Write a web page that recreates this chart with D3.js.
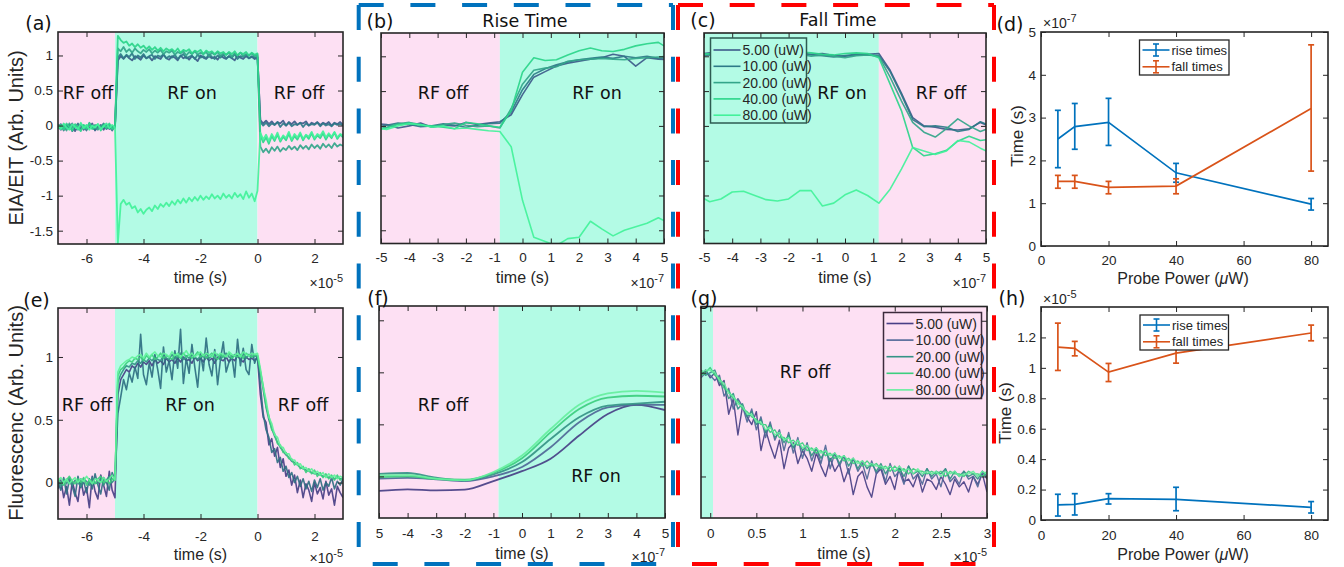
<!DOCTYPE html>
<html>
<head>
<meta charset="utf-8">
<script src="https://cdn.jsdelivr.net/npm/d3@7"></script>
<style>
  body { margin: 0; background: #ffffff; }
  svg { display: block; }
</style>
</head>
<body>
<svg id="fig" width="1344" height="567"></svg>
<script>
// ---------------- data ----------------
const powerLevels = [5, 10, 20, 40, 80];
const powerLabels = ["5.00 (uW)", "10.00 (uW)", "20.00 (uW)", "40.00 (uW)", "80.00 (uW)"];

// sample times (×1e-5 s) for the full EIA/EIT and fluorescence traces
const tFull = d3.range(101).map(i => +(-7 + i * 0.1).toFixed(2));
// sample times (×1e-7 s) for the rise / fall close-ups of the EIA/EIT signal
const tZoom = d3.range(27).map(k => +((k - 13) * 0.4).toFixed(2));
// sample times (×1e-7 s) for the fluorescence rise close-up
const tFluRise = [-5, -4, -3, -2, -1, 0, 1, 2, 3, 4, 5];
// sample times (×1e-5 s) for the fluorescence decay close-up
const tFluFall = d3.range(63).map(i => +(-0.1 + i * 0.05).toFixed(2));

// (a) EIA/EIT signal, RF switched on at -5e-5 s and off at 0
const eiaFull_5 = [
  -0.03,0.02,-0.07,0.01,-0.05,0.03,-0.08,-0.01,0.02,-0.06,0.00,-0.04,0.03,-0.07,-0.02,0.01,-0.06,0.02,-0.05,-0.01,-0.03,
  0.93,0.99,0.95,1.00,0.96,0.93,0.99,0.97,0.94,1.00, 0.96,0.98,0.93,0.99,0.97,0.95,1.01,0.96,0.94,0.99,
  0.97,0.93,1.00,0.96,0.98,0.94,0.99,0.96,0.92,1.00, 0.97,0.95,0.99,0.96,0.98,0.94,1.00,0.97,0.95,0.99,
  0.96,0.93,1.00,0.97,0.95,0.99,0.96,0.98,0.95,0.97,
  0.08,0.03,0.07,0.02,0.06,0.01,0.05,0.03,0.07,0.00, 0.05,0.02,0.06,0.01,0.04,0.03,0.06,0.00,0.04,0.02,
  0.05,0.01,0.04,0.02,0.05,0.00,0.04,0.02,0.05,0.01];
const eiaFull_10 = [
  -0.01,-0.06,0.02,-0.04,0.01,-0.08,-0.02,0.03,-0.05,0.00,-0.07,0.02,-0.03,-0.06,0.01,-0.04,0.03,-0.05,-0.01,-0.07,0.00,
  0.97,1.02,0.96,1.01,0.98,1.03,0.95,1.00,0.97,1.02, 0.96,0.99,1.01,0.95,1.00,0.98,1.02,0.96,0.99,0.97,
  1.01,0.95,0.99,1.02,0.96,0.98,1.00,0.95,1.01,0.97, 0.99,0.96,1.02,0.98,0.95,1.00,0.97,1.01,0.96,0.99,
  0.97,1.02,0.95,0.99,0.98,1.01,0.96,0.99,0.97,0.98,
  0.05,0.00,0.04,-0.01,0.03,0.01,0.05,-0.02,0.03,0.00, 0.04,-0.01,0.02,0.01,0.04,-0.02,0.03,0.00,0.02,0.01,
  0.04,-0.01,0.03,0.00,0.02,-0.01,0.03,0.01,0.02,0.00];
const eiaFull_20 = [
  0.02,-0.04,-0.01,-0.07,0.03,-0.03,0.00,-0.06,0.02,-0.02,-0.05,0.04,-0.03,0.01,-0.06,-0.01,0.02,-0.04,0.01,-0.03,-0.02,
  1.10,1.06,1.12,1.05,1.09,1.04,1.10,1.06,1.03,1.08, 1.05,1.09,1.03,1.07,1.04,1.08,1.02,1.06,1.04,1.07,
  1.01,1.05,1.03,1.06,1.00,1.05,1.02,1.06,1.01,1.04, 1.02,1.05,0.99,1.04,1.01,1.05,0.99,1.03,1.01,1.04,
  0.98,1.03,1.00,1.04,0.99,1.02,1.00,1.03,0.99,1.01,
  -0.30,-0.38,-0.33,-0.39,-0.31,-0.36,-0.30,-0.37,-0.32,-0.35, -0.29,-0.34,-0.30,-0.35,-0.28,-0.33,-0.29,-0.34,-0.27,-0.32,
  -0.28,-0.33,-0.26,-0.31,-0.27,-0.32,-0.25,-0.30,-0.27,-0.29];
const eiaFull_40 = [
  -0.04,0.01,-0.06,0.03,-0.02,-0.07,0.02,-0.03,-0.08,0.01,-0.04,0.03,-0.05,-0.01,0.02,-0.07,0.00,-0.03,0.03,-0.05,-0.02,
  1.28,1.22,1.18,1.20,1.14,1.17,1.12,1.16,1.11,1.14, 1.09,1.13,1.08,1.12,1.07,1.11,1.06,1.10,1.07,1.09,
  1.05,1.10,1.04,1.08,1.06,1.09,1.03,1.07,1.05,1.08, 1.02,1.07,1.04,1.06,1.02,1.06,1.03,1.05,1.01,1.05,
  1.02,1.06,1.00,1.04,1.02,1.05,1.00,1.04,1.01,1.03,
  -0.14,-0.24,-0.17,-0.26,-0.15,-0.22,-0.13,-0.23,-0.16,-0.21, -0.12,-0.22,-0.15,-0.20,-0.12,-0.21,-0.14,-0.19,-0.11,-0.20,
  -0.14,-0.18,-0.11,-0.20,-0.13,-0.18,-0.10,-0.19,-0.13,-0.17];
const eiaFull_80 = [
  0.00,-0.05,0.03,-0.03,-0.06,0.02,-0.02,-0.05,0.04,-0.04,0.01,-0.06,0.00,-0.03,0.02,-0.05,-0.01,0.03,-0.04,0.01,-0.03,
  -1.68,-1.12,-1.06,-1.13,-1.10,-1.18,-1.15,-1.24,-1.19,-1.26, -1.20,-1.17,-1.22,-1.14,-1.19,-1.12,-1.16,-1.10,-1.15,-1.08,
  -1.13,-1.06,-1.11,-1.04,-1.10,-1.03,-1.08,-1.02,-1.07,-1.00, -1.06,-1.01,-1.05,-0.98,-1.04,-1.00,-1.05,-0.97,-1.03,-0.99,
  -1.04,-0.96,-1.02,-0.98,-1.05,-0.94,-1.03,-0.97,-1.08,-0.93,
  -0.10,-0.20,-0.13,-0.22,-0.12,-0.19,-0.10,-0.21,-0.14,-0.18, -0.09,-0.20,-0.12,-0.17,-0.10,-0.19,-0.13,-0.16,-0.09,-0.18,
  -0.12,-0.15,-0.08,-0.17,-0.11,-0.16,-0.09,-0.17,-0.12,-0.14];

// (b) EIA/EIT rise close-up
const eiaRise_5  = [0.03,0.02,-0.03,0.00,0.04,-0.02,0.01,0.00,0.05,0.02,0.04, 0.06,0.16,0.45,0.70,0.78,0.86,0.90,0.93,0.96,0.98,1.03,1.00,0.86,0.98,0.96,0.95];
const eiaRise_10 = [-0.02,0.01,0.04,0.02,-0.01,0.00,0.03,0.01,-0.02,0.01,0.03, 0.04,0.20,0.52,0.74,0.82,0.88,0.92,0.95,0.97,0.99,0.97,1.00,0.98,1.00,0.97,0.98];
const eiaRise_20 = [-0.05,-0.02,0.03,0.05,0.02,-0.01,0.02,0.04,0.01,-0.01,0.00, -0.03,0.25,0.60,0.80,0.83,0.85,0.93,0.95,0.96,0.97,0.96,0.95,0.97,0.98,0.99,1.00];
const eiaRise_40 = [-0.06,-0.03,0.02,0.04,0.01,0.00,-0.02,-0.04,0.05,0.03,0.00, -0.02,0.22,0.77,0.98,0.94,0.95,1.02,1.08,1.12,1.08,1.07,1.10,1.15,1.18,1.20,1.10];
const eiaRise_80 = [-0.03,-0.05,0.00,0.03,0.02,-0.02,0.00,-0.04,-0.03,-0.05,-0.07, -0.08,-0.30,-1.07,-1.60,-1.66,-1.72,-1.62,-1.60,-1.37,-1.48,-1.58,-1.50,-1.45,-1.40,-1.32,-1.40];

// (c) EIA/EIT fall close-up
const eiaFall_5  = [1.03,1.05,1.04,1.06,1.04,1.05,1.03,1.04,1.06,1.05,1.03,1.04,1.01,1.00,1.02,1.03,1.04, 0.80,0.47,0.12,0.00,-0.02,-0.05,-0.06,-0.04,0.05,-0.02];
const eiaFall_10 = [1.00,1.02,1.05,1.03,1.02,1.04,1.06,1.05,1.03,1.04,1.02,1.01,0.99,1.01,1.03,1.02,1.01, 0.78,0.45,0.09,-0.01,0.00,-0.02,-0.08,-0.05,0.06,-0.01];
const eiaFall_20 = [1.05,1.03,1.02,1.04,1.05,1.03,1.02,1.04,1.05,1.03,1.00,1.02,1.00,0.98,1.01,1.02,1.00, 0.70,0.36,0.05,-0.09,-0.16,-0.04,0.10,0.00,-0.08,-0.02];
const eiaFall_40 = [1.02,1.04,1.03,1.01,1.04,1.06,1.04,1.02,1.03,1.06,1.05,1.03,1.02,1.04,1.05,1.04,0.98, 0.60,0.22,-0.31,-0.43,-0.40,-0.35,-0.22,-0.15,-0.21,-0.19];
const eiaFall_80 = [-1.00,-1.09,-1.05,-0.95,-0.94,-1.00,-1.06,-1.08,-1.05,-0.93,-0.93,-1.15,-1.11,-0.99,-0.92,-1.00,-1.11, -0.91,-0.62,-0.31,-0.36,-0.41,-0.36,-0.21,-0.23,-0.32,-0.40];

// (d) EIA/EIT response times (×1e-7 s)
const eiaRiseTime = [2.50, 2.79, 2.89, 1.71, 0.98];
const eiaRiseLow  = [1.83, 2.26, 2.35, 1.49, 0.84];
const eiaRiseHigh = [3.17, 3.33, 3.45, 1.93, 1.11];
const eiaFallTime = [1.51, 1.51, 1.37, 1.40, 3.21];
const eiaFallLow  = [1.35, 1.35, 1.22, 1.22, 1.75];
const eiaFallHigh = [1.65, 1.65, 1.51, 1.57, 4.70];

// (e) fluorescence signal
const fluFull_5 = [
  -0.05,0.02,-0.12,-0.03,-0.18,0.01,-0.08,-0.15,0.03,-0.10,-0.04,-0.20,0.05,-0.07,-0.13,0.06,-0.02,-0.11,0.09,-0.06,-0.12,
  0.70,0.82,0.86,0.90,0.88,0.93,0.91,0.95,0.92,0.96, 0.94,0.97,0.93,0.98,0.95,0.97,0.94,0.99,0.96,0.98,
  0.95,0.99,0.96,1.00,0.97,0.98,0.95,1.00,0.97,0.99, 0.96,1.00,0.97,0.99,0.95,1.00,0.98,0.97,1.00,0.96,
  0.99,0.97,1.01,0.98,0.96,1.00,0.98,0.99,0.97,1.00,
  0.70,0.52,0.48,0.30,0.35,0.21,0.28,0.12,0.19,0.05, 0.10,-0.02,0.06,-0.08,0.02,-0.12,-0.01,-0.06,-0.15,0.00,
  -0.09,-0.04,-0.13,0.01,-0.10,-0.05,-0.18,-0.03,-0.08,-0.12];
const fluFull_10 = [
  0.00,-0.06,0.04,-0.09,0.02,-0.03,-0.11,0.05,-0.04,0.01,-0.08,0.03,-0.05,0.07,-0.02,-0.09,0.04,0.00,-0.06,0.08,0.02,
  0.55,0.68,0.82,0.74,0.87,0.80,0.92,0.83,1.18,0.86, 0.78,0.95,0.84,1.02,0.90,0.75,1.08,0.88,0.97,0.82,
  1.05,0.91,1.22,0.79,0.99,0.87,1.10,0.92,0.76,1.03, 0.89,1.15,0.94,0.85,1.06,0.78,0.98,1.12,0.88,0.96,
  1.01,0.84,1.14,0.93,1.07,0.90,0.86,1.10,0.95,1.01,
  0.78,0.55,0.42,0.36,0.24,0.27,0.16,0.20,0.09,0.13, 0.04,0.08,0.00,0.05,-0.03,0.03,-0.05,0.01,-0.07,0.02,
  -0.04,0.03,-0.06,0.00,-0.03,0.04,-0.05,0.01,-0.02,0.03];
const fluFull_20 = [
  0.01,-0.03,0.03,-0.01,0.04,-0.02,0.02,0.00,-0.03,0.03,0.01,-0.02,0.04,0.00,-0.01,0.03,-0.02,0.02,0.05,0.00,0.03,
  0.80,0.86,0.90,0.93,0.92,0.95,0.94,0.97,0.95,0.98, 0.96,0.99,0.97,1.00,0.98,0.97,1.01,0.99,0.98,1.02,
  0.99,1.00,1.03,0.98,1.01,0.99,1.02,1.00,0.98,1.01, 1.00,1.03,0.99,1.01,1.00,1.02,0.98,1.01,1.03,1.00,
  0.99,1.02,1.01,1.00,1.03,0.99,1.02,1.00,1.01,1.00,
  0.88,0.74,0.60,0.50,0.43,0.37,0.32,0.28,0.25,0.22, 0.20,0.17,0.16,0.14,0.12,0.11,0.10,0.09,0.08,0.07,
  0.07,0.06,0.05,0.05,0.04,0.05,0.03,0.04,0.03,0.03];
const fluFull_40 = [
  0.03,0.00,-0.02,0.02,0.05,0.01,-0.01,0.03,0.00,0.04,-0.02,0.02,0.01,-0.01,0.03,0.05,0.00,0.02,-0.01,0.03,0.02,
  0.85,0.90,0.92,0.95,0.97,0.96,0.99,0.98,1.00,0.97, 1.01,0.99,1.02,0.98,1.00,1.03,0.99,1.01,1.00,0.98,
  1.02,1.01,0.99,1.03,1.00,1.02,0.99,1.01,1.04,1.00, 1.02,0.99,1.01,1.03,1.00,0.98,1.02,1.00,1.01,1.03,
  0.99,1.01,1.00,1.02,0.99,1.03,1.01,1.00,1.02,1.01,
  0.89,0.77,0.61,0.53,0.42,0.39,0.31,0.30,0.24,0.24, 0.19,0.19,0.14,0.16,0.11,0.13,0.08,0.11,0.07,0.10,
  0.05,0.08,0.04,0.07,0.03,0.06,0.02,0.06,0.02,0.04];
const fluFull_80 = [
  0.02,0.04,0.00,0.03,-0.01,0.02,0.04,0.00,0.03,0.01,0.05,0.02,-0.01,0.03,0.02,0.00,0.04,0.01,0.03,0.06,0.02,
  0.88,0.93,0.95,0.97,0.98,1.00,0.99,1.01,1.02,0.99, 1.03,1.00,1.02,1.04,1.01,1.00,1.03,1.02,1.00,1.04,
  1.01,1.03,1.00,1.02,1.05,1.01,1.03,1.00,1.02,1.04, 1.01,1.03,1.02,1.00,1.04,1.01,1.03,1.02,1.00,1.04,
  1.02,1.01,1.03,1.00,1.04,1.02,1.01,1.03,1.02,1.03,
  0.91,0.76,0.66,0.52,0.47,0.38,0.36,0.29,0.28,0.23, 0.23,0.18,0.18,0.14,0.15,0.11,0.12,0.09,0.11,0.07,
  0.09,0.06,0.08,0.04,0.07,0.04,0.06,0.03,0.05,0.04];

// (f) fluorescence rise close-up
const fluRise_5  = [0.144,0.150,0.146,0.149,0.182,0.220,0.268,0.357,0.440,0.475,0.455];
const fluRise_10 = [0.191,0.194,0.189,0.182,0.200,0.236,0.312,0.408,0.465,0.475,0.475];
const fluRise_20 = [0.210,0.213,0.195,0.185,0.208,0.255,0.344,0.427,0.472,0.480,0.487];
const fluRise_40 = [0.197,0.200,0.190,0.187,0.213,0.270,0.369,0.459,0.503,0.510,0.507];
const fluRise_80 = [0.204,0.206,0.191,0.185,0.217,0.280,0.382,0.475,0.519,0.529,0.522];

// (g) fluorescence decay close-up
const fluFall_5 = [0.59,0.61,0.58,0.60,0.55,0.57,0.44,0.50,0.36,0.47, 0.43,0.40,0.45,0.30,0.38,0.32,0.27,0.34,0.23,0.31,
  0.33,0.25,0.30,0.27,0.22,0.29,0.24,0.20,0.27,0.22, 0.25,0.18,0.23,0.13,0.20,0.22,0.16,0.12,0.21,0.23,
  0.17,0.20,0.15,0.24,0.18,0.19,0.16,0.21,0.14,0.19, 0.18,0.15,0.20,0.17,0.13,0.19,0.16,0.18,0.14,0.20, 0.17,0.21,0.14];
const fluFall_10 = [0.58,0.60,0.59,0.57,0.59,0.51,0.54,0.46,0.50,0.47, 0.41,0.46,0.38,0.43,0.35,0.41,0.34,0.38,0.30,0.37,
  0.29,0.35,0.27,0.33,0.26,0.31,0.25,0.32,0.23,0.29, 0.24,0.28,0.21,0.27,0.22,0.25,0.19,0.26,0.21,0.24,
  0.18,0.25,0.20,0.22,0.17,0.24,0.19,0.21,0.17,0.23, 0.19,0.21,0.16,0.23,0.18,0.20,0.17,0.22,0.19,0.20, 0.16,0.22,0.19];
const fluFall_20 = [0.61,0.59,0.60,0.61,0.56,0.55,0.50,0.52,0.46,0.48, 0.43,0.45,0.40,0.42,0.37,0.40,0.35,0.37,0.33,0.36,
  0.31,0.34,0.30,0.32,0.28,0.31,0.27,0.30,0.26,0.29, 0.25,0.28,0.24,0.27,0.23,0.26,0.23,0.25,0.22,0.25,
  0.21,0.24,0.22,0.23,0.20,0.24,0.21,0.22,0.20,0.23, 0.20,0.22,0.21,0.23,0.19,0.22,0.20,0.22,0.20,0.21, 0.19,0.22,0.20];
const fluFall_40 = [0.59,0.60,0.62,0.59,0.58,0.54,0.53,0.50,0.49,0.46, 0.45,0.43,0.42,0.40,0.40,0.37,0.38,0.35,0.35,0.33,
  0.34,0.32,0.33,0.30,0.31,0.29,0.30,0.28,0.29,0.27, 0.28,0.26,0.27,0.25,0.26,0.24,0.26,0.24,0.25,0.23,
  0.24,0.22,0.24,0.22,0.23,0.21,0.23,0.22,0.22,0.21, 0.22,0.21,0.22,0.20,0.22,0.21,0.21,0.20,0.22,0.21, 0.21,0.20,0.22];
const fluFall_80 = [0.60,0.61,0.61,0.60,0.57,0.56,0.52,0.51,0.48,0.47, 0.44,0.44,0.41,0.41,0.38,0.39,0.36,0.37,0.34,0.35,
  0.32,0.34,0.31,0.32,0.30,0.31,0.29,0.30,0.28,0.29, 0.27,0.28,0.26,0.27,0.25,0.26,0.24,0.25,0.24,0.24,
  0.23,0.24,0.22,0.24,0.22,0.23,0.21,0.23,0.21,0.22, 0.21,0.22,0.20,0.22,0.21,0.22,0.20,0.21,0.21,0.22, 0.20,0.22,0.21];

// (h) fluorescence response times (×1e-5 s)
const fluRiseTime = [0.099, 0.103, 0.140, 0.136, 0.083];
const fluRiseLow  = [0.026, 0.033, 0.105, 0.061, 0.046];
const fluRiseHigh = [0.169, 0.173, 0.173, 0.215, 0.121];
const fluFallTime = [1.136, 1.128, 0.972, 1.097, 1.229];
const fluFallLow  = [0.983, 1.079, 0.910, 1.031, 1.178];
const fluFallHigh = [1.294, 1.174, 1.029, 1.156, 1.281];

// tick labels
const fullTimeTicks = [-6, -4, -2, 0, 2];
const fullTimeLabels = ["-6", "-4", "-2", "0", "2"];
const zoomTicks = [-5, -4, -3, -2, -1, 0, 1, 2, 3, 4, 5];
const zoomLabels = ["-5", "-4", "-3", "-2", "-1", "0", "1", "2", "3", "4", "5"];
const fluZoomLabels = ["5", "-4", "-3", "-2", "-1", "0", "1", "2", "3", "4", "5"];
const decayTicks = [0, 0.5, 1, 1.5, 2, 2.5, 3];
const decayLabels = ["0", "0.5", "1", "1.5", "2", "2.5", "3"];
const eiaTicks = [-1.5, -1, -0.5, 0, 0.5, 1];
const eiaLabels = ["-1.5", "-1", "-0.5", "0", "0.5", "1"];
const fluTicks = [0, 0.5, 1];
const fluLabels = ["0", "0.5", "1"];
const closeTicks = [0.2, 0.4, 0.6, 0.8];
const powerTicks = [0, 20, 40, 60, 80];
const powerTickLabels = ["0", "20", "40", "60", "80"];
const eiaTimeTicks = [0, 1, 2, 3, 4, 5];
const eiaTimeLabels = ["0", "1", "2", "3", "4", "5"];
const fluTimeTicks = [0, 0.2, 0.4, 0.6, 0.8, 1, 1.2];
const fluTimeLabels = ["0", "0.2", "0.4", "0.6", "0.8", "1", "1.2"];

// ---------------- styling ----------------
const PINK = "#fde0f3", CYAN = "#b3fbe5";
const topColors = ["#3d5a8a", "#2e7a88", "#33a58a", "#2bd58a", "#42f29a"];
const fluColors = ["#483f86", "#2f6f82", "#349386", "#3cce7e", "#5ff29a"];
const bottomColors = ["#483f86", "#4f6797", "#349386", "#3cce7e", "#66ef9e"];
const BLUE = "#0072bd", ORANGE = "#d95319";
const INK = "#262626";
const tickFont = "Liberation Sans, Arial, Helvetica, sans-serif";
const noteFont = "DejaVu Sans, Verdana, sans-serif";
const TICK = 5;

const svg = d3.select("#fig");
const defs = svg.append("defs");
let clipCount = 0;

function frame(p) {
  const x = d3.scaleLinear().domain(p.xDomain).range([p.left, p.right]);
  const y = d3.scaleLinear().domain(p.yDomain).range([p.bottom, p.top]);
  const id = "plotclip" + (clipCount++);
  defs.append("clipPath").attr("id", id).append("rect")
    .attr("x", p.left).attr("y", p.top)
    .attr("width", p.right - p.left).attr("height", p.bottom - p.top);
  const g = svg.append("g");
  const body = g.append("g").attr("clip-path", `url(#${id})`);
  body.append("rect").attr("x", p.left).attr("y", p.top)
    .attr("width", p.right - p.left).attr("height", p.bottom - p.top).attr("fill", "#fff");
  (p.bands || []).forEach(b => {
    body.append("rect")
      .attr("x", x(b[0])).attr("y", p.top)
      .attr("width", x(b[1]) - x(b[0])).attr("height", p.bottom - p.top)
      .attr("fill", b[2]);
  });
  return { p, x, y, g, body };
}

function styleAxis(sel) {
  sel.select(".domain").remove();
  sel.attr("font-family", tickFont).attr("font-size", 13.5);
  sel.selectAll("line").attr("stroke", INK);
  sel.selectAll("text").attr("fill", INK);
}

function axes(F) {
  const { p, x, y, g } = F;
  g.append("g").attr("transform", `translate(0,${p.bottom})`)
    .call(d3.axisBottom(x).tickValues(p.xTicks).tickSize(-TICK).tickPadding(p.xPad)
      .tickFormat((d, i) => p.xLabels[i]))
    .call(styleAxis);
  g.append("g").attr("transform", `translate(0,${p.top})`)
    .call(d3.axisTop(x).tickValues(p.xTicks).tickSize(-TICK).tickFormat(""))
    .call(styleAxis);
  g.append("g").attr("transform", `translate(${p.left},0)`)
    .call(d3.axisLeft(y).tickValues(p.yTicks).tickSize(-TICK).tickPadding(5)
      .tickFormat((d, i) => (p.yLabels ? p.yLabels[i] : "")))
    .call(styleAxis);
  g.append("g").attr("transform", `translate(${p.right},0)`)
    .call(d3.axisRight(y).tickValues(p.yTicks).tickSize(-TICK).tickFormat(""))
    .call(styleAxis);
  g.append("rect").attr("x", p.left).attr("y", p.top)
    .attr("width", p.right - p.left).attr("height", p.bottom - p.top)
    .attr("fill", "none").attr("stroke", INK).attr("stroke-width", 1.6);
}

function traces(F, t, list, colors, width, curve) {
  const line = d3.line().x(d => F.x(d[0])).y(d => F.y(d[1])).curve(curve || d3.curveLinear);
  list.forEach((vals, i) => {
    F.body.append("path").datum(d3.zip(t, vals)).attr("d", line)
      .attr("fill", "none").attr("stroke", colors[i]).attr("stroke-width", width)
      .attr("stroke-linejoin", "round").attr("stroke-opacity", 0.92);
  });
}

function errorSeries(F, xs, mid, lo, hi, color) {
  const line = d3.line().x((d, i) => F.x(xs[i])).y(d => F.y(d));
  F.g.append("path").datum(mid).attr("d", line)
    .attr("fill", "none").attr("stroke", color).attr("stroke-width", 1.7);
  const bars = F.g.append("g").attr("stroke", color).attr("stroke-width", 1.7);
  xs.forEach((xv, i) => {
    const X = F.x(xv), Y0 = F.y(lo[i]), Y1 = F.y(hi[i]);
    bars.append("line").attr("x1", X).attr("x2", X).attr("y1", Y0).attr("y2", Y1);
    bars.append("line").attr("x1", X - 3).attr("x2", X + 3).attr("y1", Y0).attr("y2", Y0);
    bars.append("line").attr("x1", X - 3).attr("x2", X + 3).attr("y1", Y1).attr("y2", Y1);
  });
}

function note(x, y, text, size, family) {
  return svg.append("text").attr("x", x).attr("y", y)
    .attr("text-anchor", "middle").attr("dominant-baseline", "central")
    .attr("font-family", family || noteFont).attr("font-size", size)
    .attr("fill", "#111").text(text);
}

function xLabel(F, y, text) {
  return svg.append("text").attr("x", (F.p.left + F.p.right) / 2).attr("y", y)
    .attr("text-anchor", "middle").attr("font-family", tickFont).attr("font-size", 16)
    .attr("fill", INK).text(text);
}

function yLabel(x, y, text, size) {
  svg.append("text").attr("transform", `translate(${x},${y}) rotate(-90)`)
    .attr("text-anchor", "middle").attr("dominant-baseline", "central")
    .attr("font-family", tickFont).attr("font-size", size).attr("fill", INK).text(text);
}

function exponent(x, y, exp, anchor) {
  const t = svg.append("text").attr("x", x).attr("y", y).attr("text-anchor", anchor)
    .attr("font-family", tickFont).attr("font-size", 14).attr("fill", INK);
  t.append("tspan").text("\u00d710");
  t.append("tspan").attr("dy", -6).attr("font-size", 11).text(exp);
}

function powerLegend(box, fill, stroke, colors) {
  const g = svg.append("g");
  g.append("rect").attr("x", box.x).attr("y", box.y).attr("width", box.w).attr("height", box.h)
    .attr("fill", fill).attr("stroke", stroke).attr("stroke-width", 1.5);
  powerLabels.forEach((lab, i) => {
    const cy = box.y + box.row0 + i * box.step;
    g.append("line").attr("x1", box.x + 3).attr("x2", box.x + 30).attr("y1", cy).attr("y2", cy)
      .attr("stroke", colors[i]).attr("stroke-width", 1.6);
    g.append("text").attr("x", box.x + 32).attr("y", cy).attr("dominant-baseline", "central")
      .attr("font-family", tickFont).attr("font-size", 14).attr("fill", INK).text(lab);
  });
}

function errorLegend(box) {
  const g = svg.append("g");
  g.append("rect").attr("x", box.x).attr("y", box.y).attr("width", box.w).attr("height", box.h)
    .attr("fill", "#fff").attr("stroke", INK).attr("stroke-width", 1.3);
  [["rise times", BLUE], ["fall times", ORANGE]].forEach(([lab, col], i) => {
    const cy = box.y + 10 + i * 16.8;
    const cx = box.x + 16.5;
    const s = g.append("g").attr("stroke", col).attr("stroke-width", 1.6);
    s.append("line").attr("x1", box.x + 3).attr("x2", box.x + 30).attr("y1", cy).attr("y2", cy);
    s.append("line").attr("x1", cx).attr("x2", cx).attr("y1", cy - 6).attr("y2", cy + 6);
    s.append("line").attr("x1", cx - 3).attr("x2", cx + 3).attr("y1", cy - 6).attr("y2", cy - 6);
    s.append("line").attr("x1", cx - 3).attr("x2", cx + 3).attr("y1", cy + 6).attr("y2", cy + 6);
    g.append("text").attr("x", box.x + 32).attr("y", cy).attr("dominant-baseline", "central")
      .attr("font-family", tickFont).attr("font-size", 13).attr("fill", INK).text(lab);
  });
}

function dashedFrame(x0, y0, x1, y1, color) {
  const g = svg.append("g").attr("stroke", color).attr("stroke-width", 4)
    .attr("stroke-dasharray", "25 26.7").attr("fill", "none");
  g.append("line").attr("x1", x0).attr("y1", y0).attr("x2", x1).attr("y2", y0);
  g.append("line").attr("x1", x0).attr("y1", y0).attr("x2", x0).attr("y2", y1);
  g.append("line").attr("x1", x1).attr("y1", y0).attr("x2", x1).attr("y2", y1);
  g.append("line").attr("x1", x0).attr("y1", y1).attr("x2", x1).attr("y2", y1)
    .attr("stroke-dashoffset", 37.7);
}

function powerAxisLabel(y) {
  const t = svg.append("text").attr("x", 1183).attr("y", y).attr("text-anchor", "middle")
    .attr("font-family", tickFont).attr("font-size", 16).attr("fill", INK);
  t.append("tspan").text("Probe Power (");
  t.append("tspan").attr("font-style", "italic").text("\u03bc");
  t.append("tspan").text("W)");
}

// ---------------- (a) EIA/EIT full trace ----------------
const A = frame({ left: 58, right: 343, top: 32, bottom: 244, xDomain: [-7, 3], yDomain: [-1.69, 1.335],
  bands: [[-7, -5, PINK], [-5, 0, CYAN], [0, 3, PINK]],
  xTicks: fullTimeTicks, xLabels: fullTimeLabels, yTicks: eiaTicks, yLabels: eiaLabels, xPad: 9 });
traces(A, tFull, [eiaFull_5, eiaFull_10, eiaFull_20, eiaFull_40, eiaFull_80], topColors, 1.8);
axes(A);
note(88, 93, "RF off", 17.5); note(192, 93, "RF on", 17.5); note(299, 93, "RF off", 17.5);
xLabel(A, 283, "time (s)"); exponent(343, 288, "-5", "end");
yLabel(16, 138, "EIA/EIT (Arb. Units)", 20);
note(38.5, 23, "(a)", 19);

// ---------------- (b) rise close-up ----------------
const B = frame({ left: 381, right: 664, top: 33, bottom: 243.5, xDomain: [-5, 5], yDomain: [-1.69, 1.335],
  bands: [[-5, -0.8, PINK], [-0.8, 5, CYAN]],
  xTicks: zoomTicks, xLabels: zoomLabels, yTicks: eiaTicks, yLabels: null, xPad: 9 });
traces(B, tZoom, [eiaRise_5, eiaRise_10, eiaRise_20, eiaRise_40, eiaRise_80], topColors, 1.6);
axes(B);
note(443, 93, "RF off", 17.5); note(597, 93, "RF on", 17.5);
xLabel(B, 283, "time (s)"); exponent(664, 288, "-7", "end");
note(380, 21, "(b)", 19); note(525, 21, "Rise Time", 17.5);

// ---------------- (c) fall close-up ----------------
const C = frame({ left: 704, right: 986, top: 33, bottom: 243.5, xDomain: [-5, 5], yDomain: [-1.69, 1.335],
  bands: [[-5, 1.2, CYAN], [1.2, 5, PINK]],
  xTicks: zoomTicks, xLabels: zoomLabels, yTicks: eiaTicks, yLabels: null, xPad: 9 });
traces(C, tZoom, [eiaFall_5, eiaFall_10, eiaFall_20, eiaFall_40, eiaFall_80], topColors, 1.6);
axes(C);
powerLegend({ x: 710.5, y: 38, w: 96, h: 85, row0: 12, step: 16.3 }, CYAN, "#2e5b52", topColors);
note(842, 93, "RF on", 17.5); note(941, 93, "RF off", 17.5);
xLabel(C, 283, "time (s)"); exponent(986, 288, "-7", "end");
note(703, 20, "(c)", 19); note(838, 20, "Fall Time", 17.5);

// ---------------- (d) EIA/EIT response times ----------------
const D = frame({ left: 1041, right: 1328, top: 32, bottom: 246, xDomain: [0, 85], yDomain: [0, 5],
  xTicks: powerTicks, xLabels: powerTickLabels, yTicks: eiaTimeTicks, yLabels: eiaTimeLabels, xPad: 9 });
errorSeries(D, powerLevels, eiaRiseTime, eiaRiseLow, eiaRiseHigh, BLUE);
errorSeries(D, powerLevels, eiaFallTime, eiaFallLow, eiaFallHigh, ORANGE);
axes(D);
errorLegend({ x: 1139.5, y: 40, w: 89.5, h: 35 });
exponent(1043, 28, "-7", "start");
note(1010, 24, "(d)", 19);
yLabel(1017, 136, "Time (s)", 17);
powerAxisLabel(284);

// ---------------- (e) fluorescence full trace ----------------
const E = frame({ left: 58, right: 343, top: 308, bottom: 519, xDomain: [-7, 3], yDomain: [-0.29, 1.39],
  bands: [[-7, -5, PINK], [-5, 0, CYAN], [0, 3, PINK]],
  xTicks: fullTimeTicks, xLabels: fullTimeLabels, yTicks: fluTicks, yLabels: fluLabels, xPad: 12 });
traces(E, tFull, [fluFull_5, fluFull_10, fluFull_20, fluFull_40, fluFull_80], fluColors, 1.6);
axes(E);
note(87, 405, "RF off", 17.5); note(190, 405, "RF on", 17.5); note(303, 405, "RF off", 17.5);
xLabel(E, 560, "time (s)"); exponent(343, 563, "-5", "end");
yLabel(16, 413, "Fluorescenc (Arb. Units)", 20);
note(36.5, 300, "(e)", 19);

// ---------------- (f) fluorescence rise close-up ----------------
const Fp = frame({ left: 379, right: 665, top: 306, bottom: 518, xDomain: [-5, 5], yDomain: [0.04, 0.855],
  bands: [[-5, -0.82, PINK], [-0.82, 5, CYAN]],
  xTicks: zoomTicks, xLabels: fluZoomLabels, yTicks: closeTicks, yLabels: null, xPad: 10 });
traces(Fp, tFluRise, [fluRise_5, fluRise_10, fluRise_20, fluRise_40, fluRise_80], bottomColors, 1.8, d3.curveMonotoneX);
axes(Fp);
note(443, 405, "RF off", 17.5); note(596, 476, "RF on", 17.5);
xLabel(Fp, 559, "time (s)"); exponent(665, 562, "-7", "end");
note(378, 298, "(f)", 19);

// ---------------- (g) fluorescence decay close-up ----------------
const G = frame({ left: 701, right: 987, top: 306.5, bottom: 518, xDomain: [-0.1, 3], yDomain: [0.04, 0.855],
  bands: [[-0.1, 0.03, CYAN], [0.03, 3, PINK]],
  xTicks: decayTicks, xLabels: decayLabels, yTicks: closeTicks, yLabels: null, xPad: 10 });
traces(G, tFluFall, [fluFall_5, fluFall_10, fluFall_20, fluFall_40, fluFall_80], bottomColors, 1.4);
axes(G);
powerLegend({ x: 883.5, y: 312.5, w: 98, h: 86, row0: 11, step: 16.6 }, PINK, "#3c2a3c", bottomColors);
note(805, 372, "RF off", 17.5);
xLabel(G, 559, "time (s)"); exponent(987, 562, "-5", "end");
note(704, 298, "(g)", 19);

// ---------------- (h) fluorescence response times ----------------
const H = frame({ left: 1041, right: 1328, top: 307, bottom: 520, xDomain: [0, 85], yDomain: [0, 1.4],
  xTicks: powerTicks, xLabels: powerTickLabels, yTicks: fluTimeTicks, yLabels: fluTimeLabels, xPad: 10 });
errorSeries(H, powerLevels, fluRiseTime, fluRiseLow, fluRiseHigh, BLUE);
errorSeries(H, powerLevels, fluFallTime, fluFallLow, fluFallHigh, ORANGE);
axes(H);
errorLegend({ x: 1140, y: 315, w: 88.5, h: 35 });
exponent(1043, 304, "-5", "start");
note(1012, 298, "(h)", 19);
yLabel(1005, 413, "Time (s)", 17);
powerAxisLabel(560);

// ---------------- dashed frames grouping the close-ups ----------------
dashedFrame(358.7, 5, 673, 564, BLUE);
dashedFrame(678, 5, 994, 564, "#ff0000");
</script>
</body>
</html>
